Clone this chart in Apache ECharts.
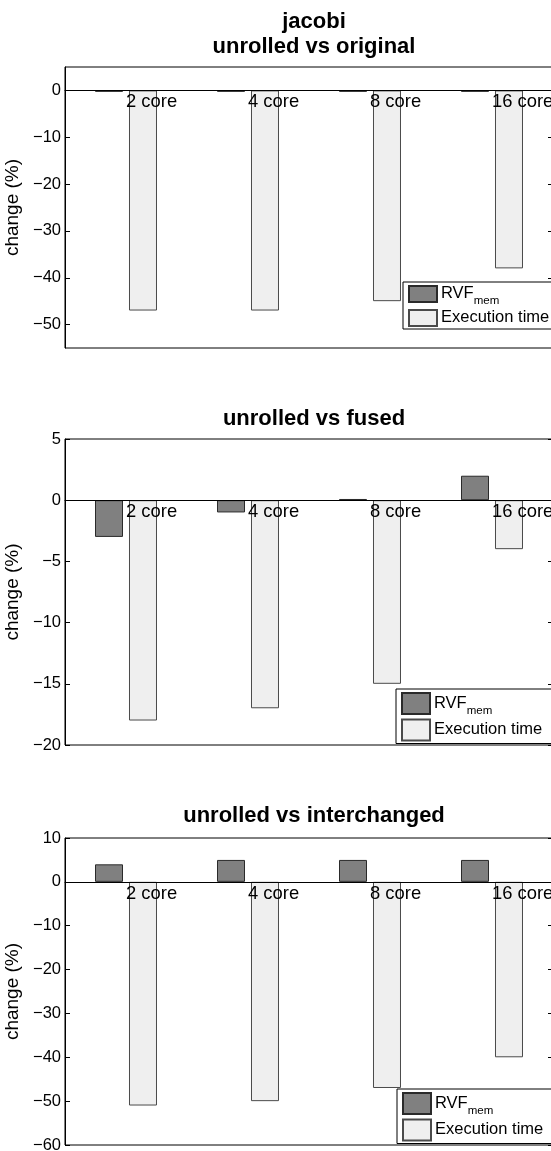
<!DOCTYPE html>
<html>
<head>
<meta charset="utf-8">
<script src="https://cdn.jsdelivr.net/npm/echarts@6/dist/echarts.min.js"></script>
<style>
  html, body { margin: 0; padding: 0; background: #fff; }
  #chart { width: 551px; height: 1151px; }
</style>
</head>
<body>
<div id="chart"></div>
<script>
  let categories = ['2 core', '4 core', '8 core', '16 core'];

  // unrolled vs original
  let originalRvf = [-0.3, -0.3, -0.3, -0.3];
  let originalExec = [-47, -47, -45, -38];
  let originalTicks = [0, -10, -20, -30, -40, -50];

  // unrolled vs fused
  let fusedRvf = [-3, -1, 0.1, 2];
  let fusedExec = [-18, -17, -15, -4];
  let fusedTicks = [5, 0, -5, -10, -15, -20];

  // unrolled vs interchanged
  let interchangedRvf = [4, 5, 5, 5];
  let interchangedExec = [-51, -50, -47, -40];
  let interchangedTicks = [10, 0, -10, -20, -30, -40, -50, -60];

  let font = '"Liberation Sans", Arial, Helvetica, sans-serif';

  let panels = [
    {rvf: originalRvf, exec: originalExec, ticks: originalTicks, min: -55, max: 5,
      grid: {top: 67, height: 281}, legend: {left: 403, top: 282, itemHeight: 16}},
    {rvf: fusedRvf, exec: fusedExec, ticks: fusedTicks, min: -20, max: 5,
      grid: {top: 439, height: 306}, legend: {left: 396, top: 689, itemHeight: 21}},
    {rvf: interchangedRvf, exec: interchangedExec, ticks: interchangedTicks, min: -60, max: 10,
      grid: {top: 838, height: 307}, legend: {left: 397, top: 1089, itemHeight: 21}}
  ];

  let titles = [
    {text: 'jacobi\nunrolled vs original', top: 4},
    {text: 'unrolled vs fused', top: 401},
    {text: 'unrolled vs interchanged', top: 798}
  ];

  function minus(v) {
    return v < 0 ? '\u2212' + (-v) : String(v);
  }

  let options = {
    backgroundColor: '#ffffff',
    animation: false,
    textStyle: {fontFamily: font},
    title: [],
    legend: [],
    grid: [],
    xAxis: [],
    yAxis: [],
    series: []
  };

  titles.forEach(function (t) {
    options.title.push({
      text: t.text,
      left: 309,
      textAlign: 'center',
      top: t.top,
      textStyle: {fontFamily: font, fontSize: 22, fontWeight: 'bold', color: '#000', lineHeight: 25}
    });
  });

  panels.forEach(function (p, i) {
    options.grid.push({
      left: 65,
      width: 488,
      top: p.grid.top,
      height: p.grid.height,
      outerBoundsMode: 'none',
      containLabel: false,
      show: true,
      borderColor: '#000',
      borderWidth: 1,
      backgroundColor: 'transparent'
    });

    // category axis sits on the zero line, labels hang just below it (drawn over the bars)
    options.xAxis.push({
      type: 'category',
      gridIndex: i,
      data: categories,
      position: 'bottom',
      offset: -p.grid.height * (0 - p.min) / (p.max - p.min),
      z: 5,
      axisLine: {onZero: false, lineStyle: {color: '#000', width: 1}},
      axisTick: {show: false},
      splitLine: {show: false},
      axisLabel: {
        align: 'left',
        margin: 3,
        fontFamily: font,
        fontSize: 18.4,
        color: '#000'
      }
    });

    // left axis with labels
    options.yAxis.push({
      type: 'value',
      gridIndex: i,
      min: p.min,
      max: p.max,
      name: 'change (%)',
      nameLocation: 'middle',
      nameRotate: 90,
      nameGap: 33,
      nameTextStyle: {fontFamily: font, fontSize: 19, color: '#000'},
      axisLine: {show: true, onZero: false, lineStyle: {color: '#000'}},
      axisTick: {show: true, inside: true, length: 5, customValues: p.ticks, lineStyle: {color: '#000'}},
      axisLabel: {
        customValues: p.ticks,
        margin: 4,
        fontFamily: font,
        fontSize: 16.5,
        color: '#000',
        formatter: minus
      },
      splitLine: {show: false}
    });

    // right axis, ticks only
    options.yAxis.push({
      type: 'value',
      gridIndex: i,
      position: 'right',
      min: p.min,
      max: p.max,
      axisLine: {show: true, onZero: false, lineStyle: {color: '#000'}},
      axisTick: {show: true, inside: true, length: 5, customValues: p.ticks, lineStyle: {color: '#000'}},
      axisLabel: {show: false},
      splitLine: {show: false}
    });

    options.series.push({
      name: 'RVFmem',
      type: 'bar',
      xAxisIndex: i,
      yAxisIndex: i * 2,
      data: p.rvf,
      barWidth: 28,
      barGap: '21.4%',
      itemStyle: {color: '#808080', borderColor: '#2a2a2a', borderWidth: 1}
    });
    options.series.push({
      name: 'Execution time',
      type: 'bar',
      xAxisIndex: i,
      yAxisIndex: i * 2,
      data: p.exec,
      barWidth: 28,
      barGap: '21.4%',
      itemStyle: {color: '#efefef', borderColor: '#4a4a4a', borderWidth: 1}
    });

    options.legend.push({
      data: ['RVFmem', 'Execution time'],
      orient: 'vertical',
      left: p.legend.left,
      top: p.legend.top,
      itemWidth: 28,
      itemHeight: p.legend.itemHeight,
      itemGap: 2,
      padding: [3, 12, 2, 5],
      backgroundColor: '#fff',
      borderColor: '#000',
      borderWidth: 1,
      borderRadius: 0,
      icon: 'rect',
      selectedMode: false,
      formatter: function (name) {
        return name === 'RVFmem' ? '{b|RVF}{s|mem}' : '{b|' + name + '}';
      },
      textStyle: {
        fontFamily: font,
        fontSize: 16.5,
        color: '#000',
        padding: [0, 0, 0, -1],
        rich: {
          b: {fontFamily: font, fontSize: 16.5, lineHeight: 18, verticalAlign: 'top', color: '#000'},
          s: {fontFamily: font, fontSize: 11.5, lineHeight: 13, verticalAlign: 'top', padding: [10, 0, 0, 0], color: '#000'}
        }
      }
    });
  });

  let chart = echarts.init(document.getElementById('chart'), null, {renderer: 'canvas'});
  chart.setOption(options);
</script>
</body>
</html>
